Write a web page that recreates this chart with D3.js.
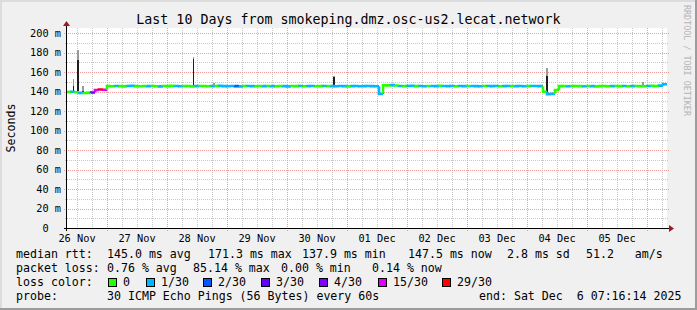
<!DOCTYPE html>
<html>
<head>
<meta charset="utf-8">
<script src="https://cdn.jsdelivr.net/npm/d3@7"></script>
<style>
  html, body { margin: 0; padding: 0; background: #f0f0f0; }
  svg { display: block; }
  text { font-family: 'DejaVu Sans Mono', monospace; fill: #000; white-space: pre; }
</style>
</head>
<body>
<svg width="697" height="310"></svg>
<script>
(function(d3) {
  'use strict';

  // Values.
  const title = 'Last 10 Days from smokeping.dmz.osc-us2.lecat.network';
  const graphStart = new Date(2025, 10, 26, 8, 0);
  const graphEnd = new Date(2025, 11, 6, 8, 0);
  const binMinutes = 96;

  // median rtt per bin (ms)
  const medianMs = [
    139.5, 139.8, 139.3, 138.6, 138.4, 138.6, 139.0, 141.6, 142.0, 141.8,
    145.6, 145.4, 145.7, 145.5, 145.3, 145.6, 145.8, 145.5, 145.4, 145.6,
    145.5, 145.7, 145.4, 145.3, 145.6, 145.5, 145.8, 145.6, 145.4, 145.5,
    145.6, 145.3, 145.5, 145.7, 145.6, 145.4, 145.5, 145.6, 145.8, 145.5,
    145.4, 145.6, 145.5, 145.3, 145.6, 145.7, 145.5, 145.4, 145.6, 145.5,
    145.7, 145.5, 145.4, 145.6, 145.5, 145.3, 145.6, 145.5, 145.7, 145.4,
    145.5, 145.6, 145.4, 145.5, 145.7, 145.6, 145.5, 145.4, 145.6, 145.5,
    145.3, 145.5, 145.6, 145.4, 145.5, 145.6, 145.5, 145.4,
    137.6,
    146.4, 146.3, 146.5, 146.2,
    145.7, 145.5, 145.6, 145.8, 145.5, 145.6, 145.4, 145.7, 145.6, 145.5,
    145.8, 145.6, 145.5, 145.7, 145.4, 145.6, 145.5, 145.7, 145.6, 145.5,
    145.4, 145.6, 145.7, 145.5, 145.6, 145.4, 145.5, 145.7, 145.6, 145.5,
    145.6, 145.4, 145.5, 145.6, 145.7, 145.5,
    139.8, 137.3, 137.6, 141.5,
    145.5, 145.6, 145.4, 145.5, 145.7, 145.5, 145.4, 145.6, 145.5, 145.3,
    145.5, 145.6, 145.4, 145.5, 145.6, 145.5, 145.7, 145.4, 145.5, 145.6,
    145.5, 145.4, 145.6, 145.8, 145.6, 146.0,
    147.5,
  ];

  // lost pings (of 30) per bin
  const lossCount = [
    0, 1, 0, 1, 0, 0, 3, 15, 29, 15,
    0, 0, 1, 0, 0, 1, 1, 0, 0, 0, 1, 0, 0, 1, 0, 0, 0, 1, 1, 0,
    0, 0, 1, 0, 0, 0, 1, 0, 1, 1, 1, 1, 2, 1, 0, 1, 1, 0, 0, 1,
    0, 1, 0, 0, 1, 1, 0, 0, 1, 0, 1, 1, 0, 0, 1, 0, 1, 1, 1, 1,
    0, 1, 1, 1, 1, 1, 1, 1,
    1,
    0, 0, 1, 0,
    1, 0, 1, 1, 0, 1, 1, 0, 1, 1, 0, 1, 1, 1, 0, 1, 1, 0, 1, 1,
    1, 0, 1, 1, 1, 0, 1, 1, 0, 1, 1, 1, 0, 1, 1, 1,
    0, 1, 1, 0,
    0, 0, 1, 0, 0, 0, 1, 0, 1, 0, 0, 0, 0, 1, 0, 0, 1, 0, 1, 0,
    0, 0, 1, 0, 0, 1,
    1,
  ];

  // smoke spikes
  const spikeTimes = [
    new Date(2025, 10, 26, 10, 12), new Date(2025, 10, 26, 12, 0),
    new Date(2025, 10, 26, 14, 0), new Date(2025, 10, 28, 10, 12),
    new Date(2025, 10, 28, 18, 24), new Date(2025, 10, 30, 18, 24),
    new Date(2025, 11, 1, 14, 12), new Date(2025, 11, 4, 7, 36),
    new Date(2025, 11, 5, 22, 0),
  ];
  const spikeLow = [139.5, 139.5, 138.6, 145.5, 145.5, 145.5, 137.6, 137.3, 145.5];
  const spikeDark = [146, 172, 141, 173, 147, 155, 146, 156, 147];
  const spikeTop = [153, 183, 146, 175, 149, 156, 146, 164, 149.5];

  const yTicks = d3.range(0, 201, 10);
  const lossSteps = [0, 1, 2, 3, 4, 15, 29];
  const lossColors = ['#26ff00', '#00b8ff', '#0059ff', '#5e00ff', '#7e00ff', '#dd00ff', '#ff0000'];
  const lossLabels = ['0', '1/30', '2/30', '3/30', '4/30', '15/30', '29/30'];

  const rttLegend = ['median rtt:', '145.0 ms avg', '171.3 ms max', '137.9 ms min',
    '147.5 ms now', '2.8 ms sd', '51.2   am/s'];
  const lossLegend = ['packet loss:', '0.76 % avg', '85.14 % max', '0.00 % min', '0.14 % now'];
  const probeLegend = ['probe:', '30 ICMP Echo Pings (56 Bytes) every 60s',
    'end: Sat Dec  6 07:16:14 2025'];

  // Layout
  const W = 697;
  const H = 310;
  const plot = {left: 67, right: 667, top: 28, bottom: 228};

  const svg = d3.select('svg');

  // frame
  svg.append('rect').attr('width', W).attr('height', H).attr('fill', '#f0f0f0');
  svg.append('rect').attr('width', W).attr('height', 2).attr('fill', '#dcdcdc');
  svg.append('rect').attr('width', 2).attr('height', H).attr('fill', '#dcdcdc');
  svg.append('rect').attr('x', W - 2).attr('width', 2).attr('height', H).attr('fill', '#9c9c9c');
  svg.append('rect').attr('y', H - 2).attr('width', W).attr('height', 2).attr('fill', '#9c9c9c');

  svg.append('rect')
      .attr('x', plot.left).attr('y', plot.top)
      .attr('width', plot.right - plot.left)
      .attr('height', plot.bottom - plot.top)
      .attr('fill', '#fff');

  const xScale = d3.scaleTime().domain([graphStart, graphEnd]).range([plot.left, plot.right]);
  const yScale = d3.scaleLinear().domain([0, 205.13]).range([plot.bottom, plot.top]);

  // grid
  const gridG = svg.append('g').attr('shape-rendering', 'crispEdges');
  const hours6 = d3.timeHour.every(6).range(graphStart, graphEnd)
      .filter(function(d) { return d.getHours() !== 0; });
  const days = d3.timeDay.range(graphStart, graphEnd);

  gridG.selectAll('line.vmin').data(hours6).enter().append('line')
      .attr('x1', function(d) { return Math.round(xScale(d)) + 0.5; })
      .attr('x2', function(d) { return Math.round(xScale(d)) + 0.5; })
      .attr('y1', plot.top).attr('y2', plot.bottom + 2)
      .attr('stroke', '#c8c8c8').attr('stroke-dasharray', '1,1');
  gridG.selectAll('line.hmin').data(yTicks.filter(function(v) { return v % 20 !== 0; }))
      .enter().append('line')
      .attr('x1', plot.left - 2).attr('x2', plot.right + 2)
      .attr('y1', function(d) { return Math.round(yScale(d)) + 0.5; })
      .attr('y2', function(d) { return Math.round(yScale(d)) + 0.5; })
      .attr('stroke', '#c8c8c8').attr('stroke-dasharray', '1,1');
  gridG.selectAll('line.vmaj').data(days).enter().append('line')
      .attr('x1', function(d) { return Math.round(xScale(d)) + 0.5; })
      .attr('x2', function(d) { return Math.round(xScale(d)) + 0.5; })
      .attr('y1', plot.top).attr('y2', plot.bottom + 3)
      .attr('stroke', '#f19a9a').attr('stroke-dasharray', '1,1');
  gridG.selectAll('line.hmaj').data(yTicks.filter(function(v) { return v % 20 === 0 && v > 0; }))
      .enter().append('line')
      .attr('x1', plot.left - 3).attr('x2', plot.right + 2)
      .attr('y1', function(d) { return Math.round(yScale(d)) + 0.5; })
      .attr('y2', function(d) { return Math.round(yScale(d)) + 0.5; })
      .attr('stroke', '#f19a9a').attr('stroke-dasharray', '1,1');

  // smoke spikes
  const spikeG = svg.append('g').attr('shape-rendering', 'crispEdges');
  spikeTimes.forEach(function(t, i) {
    const x0 = xScale(t);
    const x1 = xScale(d3.timeMinute.offset(t, 40));
    spikeG.append('rect')
        .attr('x', x0).attr('width', x1 - x0)
        .attr('y', yScale(spikeTop[i]))
        .attr('height', yScale(spikeDark[i]) - yScale(spikeTop[i]))
        .attr('fill', '#9a9a9a');
    spikeG.append('rect')
        .attr('x', x0).attr('width', x1 - x0)
        .attr('y', yScale(spikeDark[i]))
        .attr('height', yScale(spikeLow[i]) - yScale(spikeDark[i]))
        .attr('fill', '#1e1e1e');
  });

  // median line coloured by loss
  function lossColor(n) {
    let c = lossColors[0];
    lossSteps.forEach(function(s, i) {
      if (n >= s) c = lossColors[i];
    });
    return c;
  }
  const medG = svg.append('g');
  medianMs.forEach(function(v, i) {
    const t0 = d3.timeMinute.offset(graphStart, i * binMinutes);
    const t1 = d3.timeMinute.offset(graphStart, (i + 1) * binMinutes);
    const prev = i > 0 ? medianMs[i - 1] : v;
    const path = d3.path();
    path.moveTo(xScale(t0), yScale(prev));
    path.lineTo(xScale(t0), yScale(v));
    path.lineTo(xScale(t1), yScale(v));
    medG.append('path')
        .attr('d', path.toString())
        .attr('fill', 'none')
        .attr('stroke', lossColor(lossCount[i]))
        .attr('stroke-width', 2.6);
  });

  // axes
  const axisG = svg.append('g').attr('shape-rendering', 'crispEdges');
  axisG.append('line')
      .attr('x1', plot.left - 3).attr('x2', plot.right + 3)
      .attr('y1', plot.bottom + 0.5).attr('y2', plot.bottom + 0.5)
      .attr('stroke', '#000');
  axisG.append('line')
      .attr('x1', plot.left - 0.5).attr('x2', plot.left - 0.5)
      .attr('y1', plot.bottom + 3).attr('y2', plot.top - 3)
      .attr('stroke', '#000');
  svg.append('path')
      .attr('d', d3.line()([[plot.right + 2, plot.bottom - 3], [plot.right + 7, plot.bottom + 0.5],
        [plot.right + 2, plot.bottom + 4]]) + 'Z')
      .attr('fill', '#9b1c1c');
  svg.append('path')
      .attr('d', d3.line()([[plot.left - 4, plot.top - 2], [plot.left - 0.5, plot.top - 7],
        [plot.left + 3, plot.top - 2]]) + 'Z')
      .attr('fill', '#9b1c1c');

  // y labels
  svg.append('g').selectAll('text')
      .data(yTicks.filter(function(v) { return v % 20 === 0; }))
      .enter().append('text')
      .attr('x', plot.left - 6)
      .attr('y', function(d) { return yScale(d); })
      .attr('dy', '0.36em')
      .attr('text-anchor', 'end')
      .style('font-size', '10.3px')
      .text(function(d) { return d === 0 ? '0  ' : d + ' m'; });

  // x labels at noon
  svg.append('g').selectAll('text')
      .data(days.map(function(d) { return d3.timeHour.offset(d, -12); }))
      .enter().append('text')
      .attr('x', function(d) { return xScale(d); })
      .attr('y', plot.bottom + 14)
      .attr('text-anchor', 'middle')
      .style('font-size', '10.3px')
      .text(d3.timeFormat('%d %b'));

  // title and axis title
  svg.append('text')
      .attr('x', W / 2).attr('y', 24)
      .attr('text-anchor', 'middle')
      .style('font-size', '13.3px')
      .text(title);
  svg.append('text')
      .attr('transform', 'translate(15,' + ((plot.top + plot.bottom) / 2) + ') rotate(-90)')
      .attr('text-anchor', 'middle')
      .style('font-size', '11.6px')
      .text('Seconds');
  svg.append('text')
      .attr('transform', 'translate(684,5) rotate(90)')
      .style('font-size', '8.4px')
      .style('fill', '#b4b4b4')
      .text('RRDTOOL / TOBI OETIKER');

  // legend
  const legendFont = '11.6px';
  function legendRow(items, xs, y) {
    svg.append('g').selectAll('text').data(items).enter().append('text')
        .attr('x', function(d, i) { return xs[i]; })
        .attr('y', y)
        .style('font-size', legendFont)
        .text(function(d) { return d; });
  }
  legendRow(rttLegend, [16, 107, 208, 302, 408, 507, 586], 258);
  legendRow(lossLegend, [16, 107, 193, 281, 372], 272);
  legendRow(['loss color:'], [16], 286);
  legendRow(probeLegend, [16, 107, 479], 300);

  const swatchX = [108, 146, 203, 261, 319, 378, 442];
  const swG = svg.append('g').selectAll('g').data(lossLabels).enter().append('g')
      .attr('transform', function(d, i) { return 'translate(' + swatchX[i] + ',278)'; });
  swG.append('rect')
      .attr('x', 0.5).attr('y', 0.5).attr('width', 8).attr('height', 8)
      .attr('fill', function(d, i) { return lossColors[i]; })
      .attr('stroke', '#000')
      .attr('shape-rendering', 'crispEdges');
  swG.append('text')
      .attr('x', 15).attr('y', 8)
      .style('font-size', legendFont)
      .text(function(d) { return d; });
}(d3));
</script>
</body>
</html>
